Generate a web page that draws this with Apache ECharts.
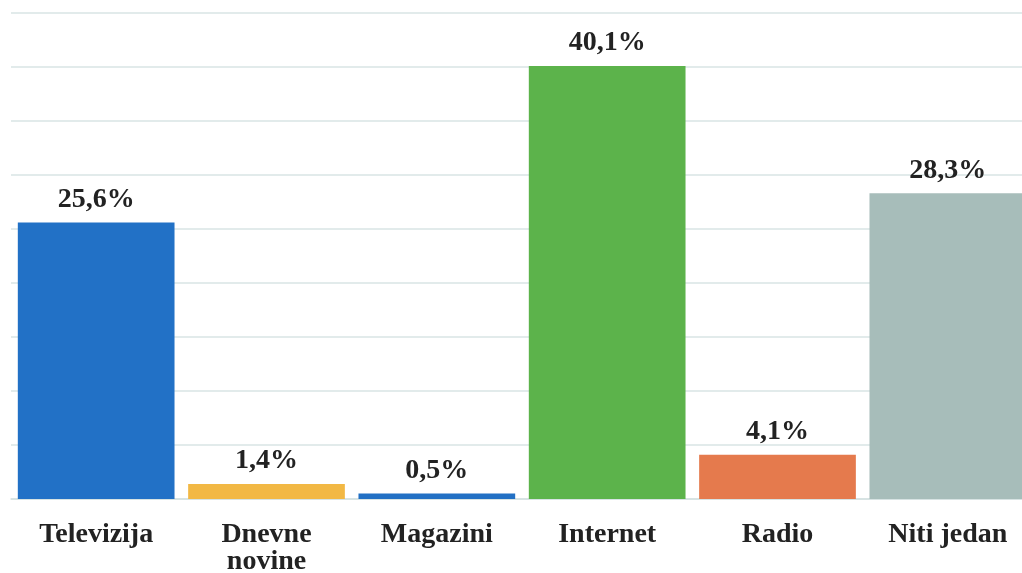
<!DOCTYPE html>
<html>
<head>
<meta charset="utf-8">
<script src="https://cdn.jsdelivr.net/npm/echarts@6/dist/echarts.min.js"></script>
<style>html,body{margin:0;padding:0;background:#fff;}#c{width:1022px;height:573px;}</style>
</head>
<body>
<div id="c"></div>
<script>
const categories = ['Televizija', 'Dnevne\nnovine', 'Magazini', 'Internet', 'Radio', 'Niti jedan'];
const values = [25.6, 1.4, 0.5, 40.1, 4.1, 28.3];
const labels = ['25,6%', '1,4%', '0,5%', '40,1%', '4,1%', '28,3%'];
const colors = ['#2271C6', '#F2B844', '#2270C4', '#5CB34B', '#E57A4D', '#A7BDBA'];

const chart = echarts.init(document.getElementById('c'), null, {renderer: 'canvas'});
const font = '"Liberation Serif", "DejaVu Serif", serif';
chart.setOption({
  animation: false,
  backgroundColor: '#ffffff',
  grid: {left: 11, top: 13, width: 1022, bottom: 74, containLabel: false, outerBoundsMode: 'none'},
  xAxis: {
    type: 'category',
    data: categories,
    axisLine: {show: true, lineStyle: {color: '#d4e1e1', width: 1.5}},
    axisTick: {show: false},
    axisLabel: {
      margin: 22,
      color: '#222222',
      fontFamily: font,
      fontWeight: 'bold',
      fontSize: 28,
      lineHeight: 27
    }
  },
  yAxis: {
    type: 'value',
    min: 0, max: 45, interval: 5,
    axisLabel: {show: false},
    axisLine: {show: false},
    axisTick: {show: false},
    splitLine: {lineStyle: {color: '#d8e4e4', width: 1.5}}
  },
  series: [{
    type: 'bar',
    data: values.map((v, i) => ({value: v, itemStyle: {color: colors[i]}})),
    barCategoryGap: '8%',
    label: {
      show: true,
      position: 'top',
      distance: 9,
      formatter: p => labels[p.dataIndex],
      color: '#222222',
      fontFamily: font,
      fontWeight: 'bold',
      fontSize: 28
    }
  }]
});
</script>
</body>
</html>
